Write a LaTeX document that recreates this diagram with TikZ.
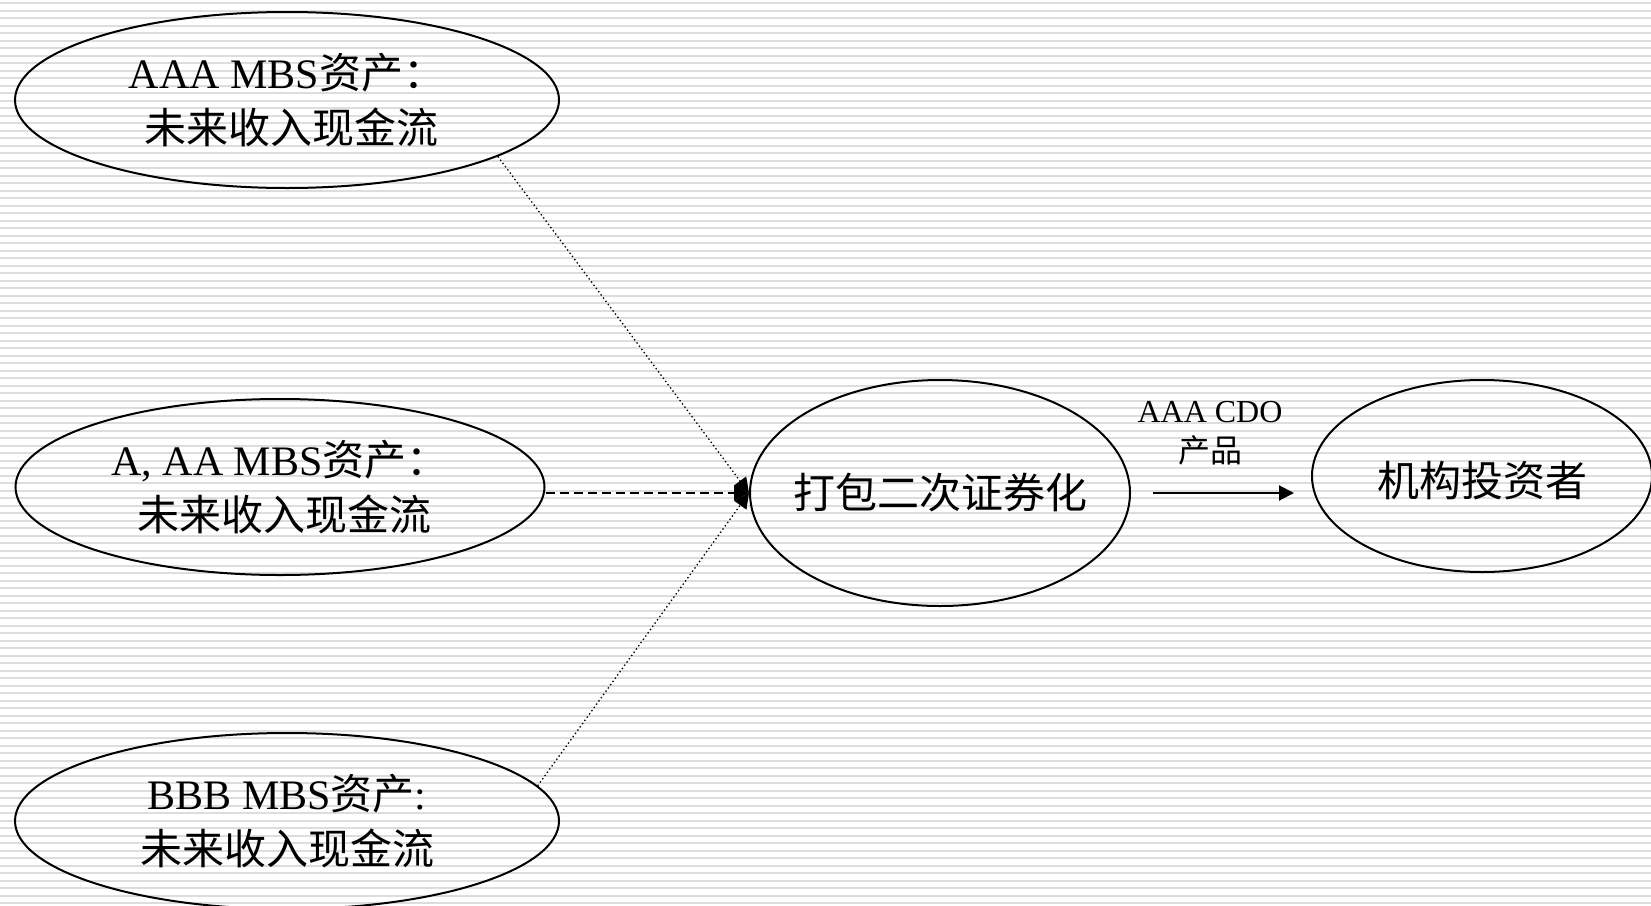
\documentclass[tikz,border=0pt]{standalone}
\usepackage{fontspec}
\setmainfont{Liberation Serif}
\newfontfamily\cjk{Noto Sans CJK SC}
\usetikzlibrary{shapes.geometric,arrows.meta}
\definecolor{stripecol}{RGB}{221,221,221}
\begin{document}
\begin{tikzpicture}[x=1pt,y=-1pt,
  oval/.style={draw, line width=2pt, ellipse, inner xsep=-20pt, inner ysep=0pt, align=center,
    font=\fontsize{42}{55}\selectfont},
  tip/.style={-{Triangle[length=15pt,width=15pt]}},
  dotarrow/.style={tip, line width=1.3pt, dash pattern=on 1.4pt off 2.6pt},
  dasharrow/.style={tip, line width=2pt, dash pattern=on 9pt off 5pt},
  solidarrow/.style={line width=2pt, -{Triangle[length=15pt,width=15pt]}},
  lbl/.style={align=center, inner sep=0pt, font=\fontsize{32}{40}\selectfont}
]
\useasboundingbox (0,0) rectangle (1651,905);
\fill[white] (0,0) rectangle (1651,905);
\foreach \k in {0,...,120} {
  \fill[stripecol] (0,{3.3+7.5*\k-0.9}) rectangle (1651,{3.3+7.5*\k+0.9});
}

\node[oval, minimum width=544pt, minimum height=176pt] (aaa) at (287,100)
  {AAA MBS{\cjk 资产：}\\{\cjk \ 未来收入现金流}};
\node[oval, minimum width=529pt, minimum height=176pt] (aa) at (280,487)
  {A, AA MBS{\cjk 资产：}\\{\cjk \ 未来收入现金流}};
\node[oval, minimum width=544pt, minimum height=176pt] (bbb) at (287,821)
  {BBB MBS{\cjk 资产}:\\{\cjk 未来收入现金流}};
\node[oval, minimum width=380pt, minimum height=226pt] (pack) at (940,493)
  {\cjk 打包二次证券化};
\node[oval, minimum width=340pt, minimum height=192pt] (inv) at (1482,476)
  {\raisebox{-5pt}[\height][\depth]{\cjk 机构投资者}};

\draw[dotarrow] (aaa.-15) -- (pack.west);
\draw[dasharrow] (aa.east |- pack.west) -- (pack.west);
\draw[dotarrow] (bbb.8) -- (pack.west);

\draw[solidarrow, shorten <=22pt, shorten >=17pt] (pack.east) -- (inv.west |- pack.east);
\node[lbl] (cdo) at (1210,433) {AAA CDO\\{\cjk 产品}};
\end{tikzpicture}
\end{document}
